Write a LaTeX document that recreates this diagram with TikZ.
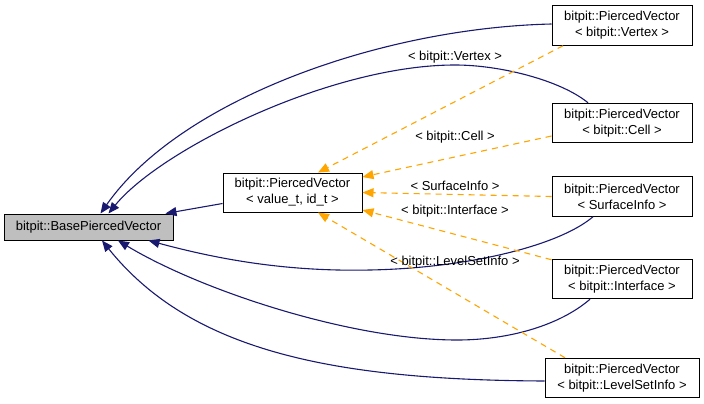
\documentclass[tikz,border=0pt]{standalone}
\usepackage{fontspec}
\setmainfont{Liberation Sans}
\usetikzlibrary{arrows.meta}
\definecolor{navy}{HTML}{191970}
\definecolor{orng}{HTML}{FFA500}
\definecolor{boxgray}{HTML}{BFBFBF}
\tikzset{
  cls/.style={draw=black, line width=1pt, fill=white, align=center, inner sep=0pt,
    font=\fontsize{13}{16}\selectfont, minimum width=140pt, minimum height=39.5pt},
  inh/.style={draw=navy, line width=1.1pt, -{Triangle[length=11pt,width=9pt]}, fill=none},
  tpl/.style={draw=orng, line width=1.1pt, dash pattern=on 6pt off 5pt,
    -{Triangle[length=11pt,width=9pt,fill=orng]}},
  lbl/.style={font=\fontsize{13}{16}\selectfont, inner sep=0pt}
}
\begin{document}
\begin{tikzpicture}[x=1pt,y=-1pt]
\useasboundingbox (0,0) rectangle (704,404);
% nodes
\node[cls, fill=boxgray, minimum width=169pt, minimum height=26pt] (base) at (88.5,227) {bitpit::BasePiercedVector};
\node[cls, minimum width=139pt, minimum height=39pt] (pv) at (292.5,192.5) {bitpit::PiercedVector\\{<} value\_t, id\_t {>}};
\node[cls] (vx) at (622,25.5) {bitpit::PiercedVector\\{<} bitpit::Vertex {>}};
\node[cls] (cell) at (622,123) {bitpit::PiercedVector\\{<} bitpit::Cell {>}};
\node[cls] (surf) at (622,196.5) {bitpit::PiercedVector\\{<} SurfaceInfo {>}};
\node[cls] (intf) at (622,279) {bitpit::PiercedVector\\{<} bitpit::Interface {>}};
\node[cls, minimum width=154pt] (lsi) at (622,378) {bitpit::PiercedVector\\{<} bitpit::LevelSetInfo {>}};
% inheritance edges
\draw[inh] ([yshift=-11pt]pv.west) -- ([xshift=-8pt]base.north east);
\draw[inh] ([yshift=1.5pt]vx.west) .. controls (380,28) and (180,100) .. ([xshift=12pt]base.north);
\draw[inh] ([xshift=-34pt]cell.north) .. controls (560,80) and (500,65) .. (455,65)
   .. controls (330,65) and (160,150) .. ([xshift=20pt]base.north);
\draw[inh] ([xshift=-29pt]surf.south) .. controls (560,245) and (470,268) .. (370,270)
   .. controls (280,272) and (210,257) .. ([xshift=60pt]base.south);
\draw[inh] ([xshift=-32pt]intf.south) .. controls (560,325) and (510,340) .. (457,340)
   .. controls (350,340) and (200,290) .. ([xshift=29.5pt]base.south);
\draw[inh] ([yshift=-3pt]lsi.west) .. controls (330,380) and (190,350) .. ([xshift=13.5pt]base.south);
% template edges
\draw[tpl] ([xshift=-59pt]vx.south) -- ([xshift=25.5pt]pv.north);
\draw[tpl] ([yshift=-13pt]cell.west) -- ([yshift=15.5pt]pv.east);
\draw[tpl] (surf.west) -- (pv.east);
\draw[tpl] ([yshift=-1pt]intf.north west) -- ([yshift=-17.5pt]pv.east);
\draw[tpl] ([xshift=-57pt]lsi.north) -- ([xshift=25.5pt]pv.south);
% labels
\node[lbl] (lvx) at (455,57) {{<} bitpit::Vertex {>}};
\node[lbl] (lcell) at (455,137) {{<} bitpit::Cell {>}};
\node[lbl] (lsurf) at (455,186) {{<} SurfaceInfo {>}};
\node[lbl] (lintf) at (455,211) {{<} bitpit::Interface {>}};
\node[lbl] (llsi) at (455,262) {{<} bitpit::LevelSetInfo {>}};
\end{tikzpicture}
\end{document}
